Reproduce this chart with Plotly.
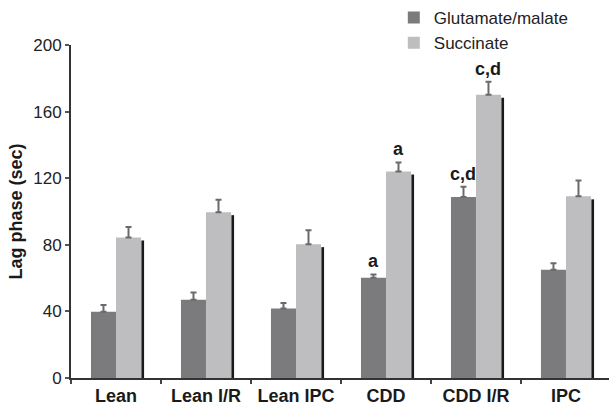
import plotly.graph_objects as go

categories = ["Lean", "Lean I/R", "Lean IPC", "CDD", "CDD I/R", "IPC"]
glut = [39.8, 47.0, 41.8, 60.2, 108.7, 65.0]
glut_err = [4.0, 4.3, 3.2, 2.0, 6.2, 3.9]
succ = [84.4, 99.6, 80.4, 124.0, 170.1, 109.1]
succ_err = [6.3, 7.5, 8.3, 5.5, 7.8, 9.5]
glut_labels = ["", "", "", "a", "c,d", ""]
succ_labels = ["", "", "", "a", "c,d", ""]
y_ticks = [0, 40, 80, 120, 160, 200]

FONT = "Liberation Sans, Arial, sans-serif"
DARK = "#7b7b7e"
LIGHT = "#bebec1"
BW = 0.278

fig = go.Figure()
fig.add_trace(go.Bar(
    x=categories, y=glut, name="Glutamate/malate",
    marker=dict(color=DARK, line=dict(width=0)),
    offset=-BW, width=BW,
    error_y=dict(type="data", array=glut_err, arrayminus=[0]*len(glut_err),
                 symmetric=False, color="#6a6a6a", thickness=2, width=3),
))
fig.add_trace(go.Bar(
    x=categories, y=succ, name="Succinate",
    marker=dict(color=LIGHT, line=dict(width=0)),
    offset=0, width=BW,
    error_y=dict(type="data", array=succ_err, arrayminus=[0]*len(succ_err),
                 symmetric=False, color="#6a6a6a", thickness=2, width=3),
))
# dark shadow line at the right of each succinate bar
fig.add_trace(go.Bar(
    x=categories, y=[v - 1.8 for v in succ], showlegend=False, hoverinfo="skip",
    marker=dict(color="#1a1a1a", line=dict(width=0)),
    offset=BW + 0.004, width=0.03,
))

annotations = []
for c, v, e, t in zip(categories, glut, glut_err, glut_labels):
    if t:
        annotations.append(dict(x=c, y=v + e, xref="x", yref="y", text="<b>%s</b>" % t,
                                showarrow=False, yanchor="bottom", xshift=-12.5, yshift=1,
                                font=dict(family=FONT, size=18, color="#1a1a1a")))
for c, v, e, t in zip(categories, succ, succ_err, succ_labels):
    if t:
        annotations.append(dict(x=c, y=v + e, xref="x", yref="y", text="<b>%s</b>" % t,
                                showarrow=False, yanchor="bottom", xshift=12.5, yshift=1,
                                font=dict(family=FONT, size=18, color="#1a1a1a")))

fig.update_layout(
    width=609, height=409,
    margin=dict(l=71, r=0, t=43, b=31, pad=0),
    barmode="overlay",
    plot_bgcolor="white", paper_bgcolor="white",
    font=dict(family=FONT, color="#222222"),
    showlegend=True,
    legend=dict(x=0.60, y=1.135, xanchor="left", yanchor="top",
                font=dict(family=FONT, size=17, color="#222222"),
                bgcolor="rgba(0,0,0,0)", tracegroupgap=0, itemwidth=30),
    annotations=annotations,
    xaxis=dict(
        type="category", range=[-0.5, 5.478],
        showline=True, linecolor="#333333", linewidth=2,
        ticks="outside", tickson="boundaries", ticklen=4, tickcolor="#444444", tickwidth=1.5,
        tickfont=dict(family=FONT, size=18, color="#1a1a1a"),
        tickprefix="<b>", ticksuffix="</b>",
        showgrid=False, zeroline=False,
    ),
    yaxis=dict(
        range=[0, 200], tickvals=y_ticks,
        showline=True, linecolor="#333333", linewidth=2,
        ticks="outside", ticklen=4, tickcolor="#555555", tickwidth=1.5,
        tickfont=dict(family=FONT, size=17, color="#222222"),
        showgrid=False, zeroline=False,
        title=dict(text="<b>Lag phase (sec)</b>", font=dict(family=FONT, size=18, color="#1a1a1a"),
                   standoff=6),
    ),
)

fig.write_html("out.html", config={"displayModeBar": False},
               post_script="document.body.style.margin='0';document.body.style.padding='0';")
